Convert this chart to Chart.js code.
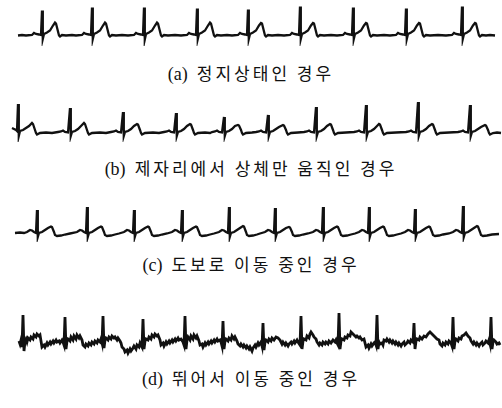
<!DOCTYPE html>
<html><head><meta charset="utf-8">
<script src="https://cdn.jsdelivr.net/npm/chart.js@4/dist/chart.umd.min.js"></script>
<style>
html,body{margin:0;padding:0;background:#fff;width:502px;height:408px;overflow:hidden}
canvas{position:absolute;left:0}
.cap{position:absolute;left:0;width:502px;text-align:center;font-family:"Noto Sans CJK KR",sans-serif;font-size:17px;letter-spacing:3px;color:#111;line-height:20px;white-space:nowrap}
.cap .lab{font-family:"Liberation Serif",serif;letter-spacing:0;margin-right:9px;font-size:18px}
</style></head><body>
<canvas id="ca" width="502" height="46" style="top:0px"></canvas>
<canvas id="cb" width="502" height="46" style="top:96px"></canvas>
<canvas id="cc" width="502" height="46" style="top:196px"></canvas>
<canvas id="cd" width="502" height="55" style="top:305px"></canvas>
<div class="cap" id="la" style="top:63px"></div>
<div class="cap" id="lb" style="top:158px"></div>
<div class="cap" id="lc" style="top:254px"></div>
<div class="cap" id="ld" style="top:368px"></div>
<script>
// captions
const captionLabels = ["(a)", "(b)", "(c)", "(d)"];
const captions = ["정지상태인 경우", "제자리에서 상체만 움직인 경우", "도보로 이동 중인 경우", "뛰어서 이동 중인 경우"];

// ECG traces: [time (x10 ms), amplitude (relative units, baseline 0)]
const ecgA = [[18,0],[22,0.5],
[26,0],[32,0.5],[34,2.5],[36,1.5],[39,1],[41,0.5],[42,25],[42.8,-3.5],[44,1.5],[47,3],[50,5],[53,10],[55,13],[56,12],[58,4],[59,0],[60,-1],[62,0.5],[66,0],[72,0.5],
[76,0],[82,0.5],[84,2.5],[86,1.5],[89,1],[91,0.5],[92,28],[92.8,-3.5],[94,1.5],[97,3],[100,5],[103,10],[105,13],[106,12],[108,4],[109,0],[110,-1],[112,0.5],[116,0],[122,0.5],
[128,0],[134,0.5],[136,2.5],[138,1.5],[141,1],[143,0.5],[144,28],[144.8,-4],[146,1.5],[149,3],[152,5],[155,10],[157,13],[158,12],[160,4],[161,0],[162,-1],[164,0.5],[168,0],[175,0.5],
[181,0],[187,0.5],[189,2.5],[191,1.5],[194,1],[196,0.5],[197,27],[197.8,-3.5],[199,1.5],[202,3],[205,5],[208,10],[210,13],[211,12],[213,4],[214,0],[215,-1],[217,0.5],[221,0],[227,0.5],
[232,0],[238,0.5],[240,2.5],[242,1.5],[245,1],[247,0.5],[248,26],[248.8,-3.5],[250,1.5],[253,3],[256,5],[259,10],[261,12.5],[262,12],[264,4],[265,0],[266,-1],[268,0.5],[272,0],[278,0.5],
[284,0],[290,0.5],[292,2.5],[294,1.5],[297,1],[299,0.5],[300,29],[300.8,-3.5],[302,1.5],[305,3],[308,5],[311,10],[313,12.5],[314,12],[316,4],[317,0],[318,-1],[320,0.5],[324,0],[331,0.5],
[337,0],[343,0.5],[345,2.5],[347,1.5],[350,1],[352,0.5],[353,28],[353.8,-3.5],[355,1.5],[358,3],[361,5],[364,10],[366,12.5],[367,12],[369,4],[370,0],[371,-1],[373,0.5],[377,0],[384,0.5],
[390,0],[396,0.5],[398,2.5],[400,1.5],[403,1],[405,0.5],[406,27],[406.8,-3.5],[408,1.5],[411,3],[414,5],[417,10],[419,12.5],[420,12],[422,4],[423,0],[424,-1],[426,0.5],[430,0],[438,0.5],
[446,0],[452,0.5],[454,2.5],[456,1.5],[459,1],[461,0.5],[462,29],[462.8,-3.5],[464,1.5],[467,3],[470,5],[473,10],[475,12.5],[476,12],[478,4],[479,0],[480,-1],[482,0.5],[486,0],[490,0.5],[495,0]];

const ecgB = [[12,5],[14,4],[16,3],[17,2],[18,29],[18.8,-3],[20,2],[23,3],[26,5],[29,7],[32,10],[33,9],[35,3],[36,0],[37,-1.5],[40,0],[46,0.5],[52,0],
[58,1],[61,1.5],[63,2.5],[65,1],[68,0.5],[70,25],[70.8,-3],[72,1],[75,2],[78,4],[81,7],[84,10],[85,9],[87,3],[88,0],[89,-1.5],[92,0],[100,0.5],[106,0],
[111,1],[114,1.5],[116,2.5],[118,1],[121,0.5],[123,21],[123.8,-3],[125,1],[128,2],[131,4],[134,7],[137,9],[138,8.5],[140,3],[141,0],[142,-1.5],[145,0],[153,0.5],[159,0],
[164,1],[167,1.5],[169,2.5],[171,1],[174,0.5],[176,20],[176.8,-3],[178,1],[181,2],[184,4],[187,7],[190,9],[191,8.5],[193,3],[194,0],[195,-1.5],[198,0],[205,0.5],[210,0],
[212,1],[215,1.5],[217,2.5],[219,1],[222,0.5],[224,16],[224.8,-3],[226,1],[229,2],[232,4],[235,7],[238,8],[239,7.5],[241,3],[242,0],[243,-1.5],[246,0],[252,0.5],
[256,1],[259,1.5],[261,2.5],[263,1],[266,0.5],[268,18],[268.8,-3],[270,1],[273,2],[276,4],[279,6],[283,8],[284,7.5],[286,3],[287,0],[288,-1.5],[291,0],[298,0.5],
[304,1],[307,1.5],[309,2.5],[311,1],[314,0.5],[316,26],[316.8,-3],[318,1],[321,2],[324,4],[327,7],[330,9],[331,8.5],[333,3],[334,0],[335,-1.5],[338,0],[346,0.5],
[354,1],[357,1.5],[359,2.5],[361,1],[364,0.5],[366,28],[366.8,-3],[368,1],[371,2],[374,4],[377,7],[379,9],[380,8.5],[382,3],[383,0],[384,-1.5],[387,0],[396,0.5],
[406,1],[409,1.5],[411,2.5],[413,1],[416,0.5],[418,31],[418.8,-3],[420,1],[423,2],[426,4],[429,7],[432,9],[433,8.5],[435,3],[436,0],[437,-1.5],[440,0],[449,0.5],
[458,1],[461,1.5],[463,2.5],[465,1],[468,0.5],[470,28],[470.8,-3],[472,1],[475,2],[478,4],[481,6],[485,8],[486,7.5],[488,3],[489,0],[490,-1.5],[493,0],[497,0.5],[501,0]];

const ecgC = [[15,0],[20,0.5],[24,0],
[27,1],[30,3],[32,2.5],[34,1],[36,0],[37,23],[37.8,-4],[39,0],[42,1],[45,3],[48,5],[51,6.5],[52,6],[54,1],[55,-2],[57,-3],[61,-2.5],[65,-1.5],[70,-0.5],
[77,1],[80,3],[82,2.5],[84,1],[86,0],[87,26],[87.8,-4],[89,0],[92,1],[95,3],[98,5],[101,6.5],[102,6],[104,1],[105,-2],[107,-3],[111,-2.5],[115,-1.5],[119,-0.5],
[124,1],[127,3],[129,2.5],[131,1],[133,0],[134,23],[134.8,-4],[136,0],[139,1],[142,3],[145,5],[148,6.5],[149,6],[151,1],[152,-2],[154,-3],[158,-2.5],[162,-1.5],[167,-0.5],
[172,1],[175,3],[177,2.5],[179,1],[181,0],[182,23],[182.8,-4],[184,0],[187,1],[190,3],[193,5],[196,6.5],[197,6],[199,1],[200,-2],[202,-3],[206,-2.5],[210,-1.5],[214,-0.5],
[219,1],[222,3],[224,2.5],[226,1],[228,0],[229,26],[229.8,-4],[231,0],[234,1],[237,3],[240,5],[243,7],[244,6.5],[246,1],[247,-2],[249,-3],[253,-2.5],[257,-1.5],[260,-0.5],
[265,1],[268,3],[270,2.5],[272,1],[274,0],[275,25],[275.8,-4],[277,0],[280,1],[283,3],[286,5],[289,6],[290,5.5],[292,1],[293,-2],[295,-3],[299,-2.5],[303,-1.5],[308,-0.5],
[313,1],[316,3],[318,2.5],[320,1],[322,0],[323,26],[323.8,-4],[325,0],[328,1],[331,3],[334,5],[337,6.5],[338,6],[340,1],[341,-2],[343,-3],[347,-2.5],[351,-1.5],[355,-0.5],
[359,1],[362,3],[364,2.5],[366,1],[368,0],[369,26],[369.8,-4],[371,0],[374,1],[377,3],[380,5],[383,6.5],[384,6],[386,1],[387,-2],[389,-3],[393,-2.5],[397,-1.5],[401,-0.5],
[405,1],[408,3],[410,2.5],[412,1],[414,0],[415,24],[415.8,-4],[417,0],[420,1],[423,3],[426,5],[429,6.5],[430,6],[432,1],[433,-2],[435,-3],[439,-2.5],[443,-1.5],[449,-0.5],
[453,1],[456,3],[458,2.5],[460,1],[462,0],[463,27],[463.8,-4],[465,0],[468,1],[471,3],[474,5],[477,7],[478,6.5],[480,1],[481,-2],[483,-3],[487,-2.5],[492,-1.5],[499,-1]];

const ecgD = [[19,2],[20,-1],[21,3],[22,-4],[23,28],[24,-8],[25,2],[26,4],[27,1],[28,5],[30,3],[31,6],[33,4],[34,8],[36,6],[37,9],[39,7],[40,8],[41,2],[42,-4],[44,-2],[45,-4],[47,0],[48,-2],[50,1],[51,-1],[53,2],[54,0],[56,3],[57,1],[59,2],[60,0],[62,3],[63,1],[64,-2],
[65,26],[66,-6],[67,2],[68,4],[70,2],[71,6],[73,3],[74,7],[76,4],[77,8],[79,5],[80,7],[82,3],[83,-2],[85,-4],[86,-1],[88,-3],[89,0],[91,-2],[92,1],[94,-1],[95,2],[97,0],[98,3],[100,1],[101,4],[102,0],
[103,27],[104,-5],[105,3],[106,5],[108,3],[109,6],[111,4],[112,7],[114,5],[115,6],[117,3],[118,5],[120,2],[121,0],[122,-4],[124,-6],[125,-9],[127,-7],[128,-10],[130,-6],[131,-8],[133,-5],[134,-3],[136,-6],[137,-2],[139,-4],[140,0],[141,-2],[142,-4],
[143,24],[144,-6],[145,2],[146,4],[148,3],[149,6],[151,4],[152,8],[154,6],[155,9],[157,7],[158,8],[160,3],[161,-2],[163,0],[164,-3],[166,1],[167,-1],[169,2],[170,0],[172,3],[173,1],[175,4],[176,2],[178,5],[179,3],[181,4],[183,1],[184,-2],
[185,27],[186,-6],[187,3],[188,6],[190,3],[191,7],[193,4],[194,8],[196,5],[197,7],[199,2],[200,-2],[202,-1],[203,-4],[205,0],[206,-2],[208,1],[209,-1],[211,2],[212,0],[214,3],[215,1],[217,4],[218,2],[220,3],[221,1],[222,-3],
[223,22],[224,-6],[225,2],[226,4],[228,2],[229,5],[231,3],[232,7],[234,4],[235,6],[237,2],[238,-1],[240,-3],[241,-1],[243,-4],[244,-2],[246,-5],[247,-3],[249,-6],[250,-4],[252,-8],[253,-5],[255,-2],[256,-4],[258,0],[259,-2],[261,1],[262,-3],
[263,20],[264,-7],[265,1],[266,3],[268,1],[269,4],[271,2],[272,5],[274,3],[276,6],[278,5],[280,3],[282,-1],[283,1],[285,-2],[286,0],[288,-3],[289,-1],[291,1],[292,-1],[294,2],[295,0],[297,3],[298,1],[300,-2],
[301,27],[302,-6],[303,2],[304,4],[306,3],[307,7],[309,5],[310,9],[311,11],[313,8],[314,6],[316,4],[317,1],[319,-2],[320,0],[322,-2],[323,1],[325,-1],[326,1],[328,-1],[329,2],[331,0],[333,3],[335,1],[336,3],[337,0],[338,-2],
[339,30],[340,-6],[341,2],[342,4],[344,3],[345,6],[347,5],[348,8],[350,7],[351,11],[353,9],[354,8],[356,6],[357,7],[359,5],[360,6],[362,3],[364,4],[365,0],[366,-4],[368,-2],[369,-5],[371,-1],[372,-3],[374,0],[375,1],[376,-2],
[377,28],[378,-6],[379,1],[380,-1],[382,0],[383,-2],[384,3],[386,2],[387,4],[389,1],[390,3],[392,0],[393,2],[395,-1],[396,1],[398,-2],[399,0],[401,-3],[402,-1],[404,1],[405,-2],[407,0],[408,2],[410,0],[411,3],[413,1],
[414,20],[415,-6],[416,2],[417,4],[419,3],[420,6],[422,4],[424,7],[426,6],[428,9],[430,11],[431,10],[433,8],[435,6],[437,4],[439,3],[440,-1],[442,-3],[443,0],[445,-2],[446,1],[448,-1],[449,2],[451,0],[452,-3],
[453,26],[454,-6],[455,2],[456,4],[458,2],[459,5],[461,4],[462,7],[464,8],[466,10],[468,7],[470,5],[471,2],[473,-1],[474,1],[476,-2],[477,0],[479,-3],[480,-1],[482,1],[483,-2],[485,0],[486,2],[488,0],[489,3],[490,-1],
[491,26],[492,-6],[493,1],[494,3],[496,1],[497,-1],[499,0],[500,-2]];

const strips = [
  {id:'ca', data:ecgA, ymin:-10.5, ymax:35.5, w:2.3},
  {id:'cb', data:ecgB, ymin:-9, ymax:37, w:2.3},
  {id:'cc', data:ecgC, ymin:-9, ymax:37, w:2.3},
  {id:'cd', data:ecgD, ymin:-17, ymax:38, w:2.8}
];
['la','lb','lc','ld'].forEach((id,i)=>{
  const el = document.getElementById(id);
  const lab = document.createElement('span');
  lab.className = 'lab';
  lab.textContent = captionLabels[i];
  el.appendChild(lab);
  el.appendChild(document.createTextNode(captions[i]));
});

strips.forEach(s=>{
  new Chart(document.getElementById(s.id), {
    type:'line',
    data:{datasets:[{data:s.data.map(p=>({x:p[0],y:p[1]})), borderColor:'#111', borderWidth:s.w, pointRadius:0, tension:0, fill:false, borderJoinStyle:'miter', borderCapStyle:'butt'}]},
    options:{responsive:false, animation:false, devicePixelRatio:1, events:[],
      layout:{padding:0},
      plugins:{legend:{display:false}, tooltip:{enabled:false}},
      scales:{x:{type:'linear', display:false, min:0, max:502}, y:{display:false, min:s.ymin, max:s.ymax}}}
  });
});
</script>
</body></html>
